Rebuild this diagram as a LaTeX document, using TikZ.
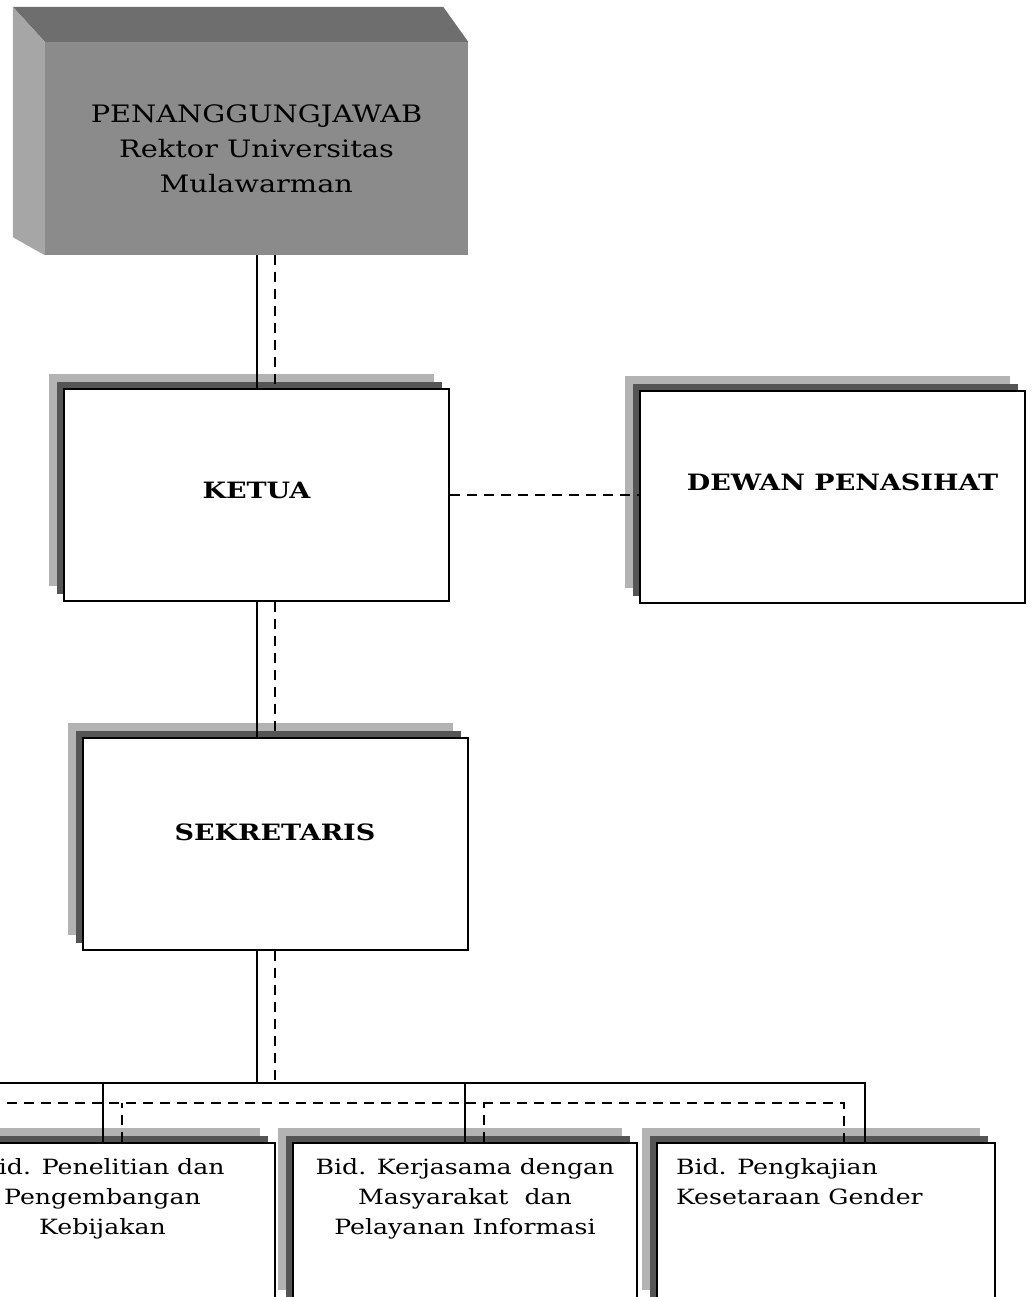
\documentclass[tikz,border=0pt]{standalone}
\usepackage{fontspec}
\setmainfont[FakeStretch=1.2]{DejaVu Serif}
\usetikzlibrary{shadows}
\definecolor{frontgrey}{HTML}{8B8B8B}
\definecolor{topgrey}{HTML}{6E6E6E}
\definecolor{sidegrey}{HTML}{A6A6A6}
\definecolor{paleshade}{HTML}{B3B3B3}
\definecolor{darkshade}{HTML}{555555}
\tikzset{unit/.style={draw, line width=2pt, fill=white,
        minimum width=385pt, minimum height=212pt,
        general shadow={draw=none, fill=paleshade, shadow xshift=-15pt, shadow yshift=15pt},
        general shadow={draw=none, fill=darkshade, shadow xshift=-7pt, shadow yshift=7pt},
        font=\fontsize{22.5}{28}\selectfont\bfseries},
    bidang/.style={unit, minimum width=345pt, minimum height=162pt,
        font=\fontsize{21}{30}\selectfont},
    link/.style={line width=2pt},
    dashlink/.style={line width=2pt, dash pattern=on 10pt off 7pt},
    }
\begin{document}
\begin{tikzpicture}[x=1pt,y=-1pt]
\useasboundingbox (0,0) rectangle (1032,1297);
\clip (0,0) rectangle (1032,1297);
% penanggungjawab block
\node[fill=frontgrey, minimum width=423pt, minimum height=213pt, align=center,
    font=\fontsize{24}{35}\selectfont] (pj) at (256.5,148.5)
    {PENANGGUNGJAWAB\\Rektor Universitas\\Mulawarman};
\fill[topgrey] (pj.north west) -- ++(-32,-35) -- ([shift={(-25,-35)}]pj.north east) -- (pj.north east) -- cycle;
\fill[sidegrey] (pj.north west) -- ++(-32,-35) -- ([shift={(-32,-18)}]pj.south west) -- (pj.south west) -- cycle;
% units
\node[unit, text depth=10pt] (ketua) at (256.5,495) {KETUA};
\node[unit, text depth=28pt] (dewan) at (832.5,496.5) {\hspace*{20pt}DEWAN PENASIHAT};
\node[unit, text depth=24pt] (sek) at (275,844) {SEKRETARIS};
\node[bidang] (bid1) at (102.5,1224)
    {\parbox[t][130pt][t]{330pt}{\centering Bid. Penelitian dan\\Pengembangan\\Kebijakan}};
\node[bidang, minimum width=344pt] (bid2) at (465,1224)
    {\parbox[t][130pt][t]{330pt}{\centering Bid. Kerjasama dengan\\Masyarakat~ dan\\Pelayanan Informasi}};
\node[bidang, minimum width=338pt] (bid3) at (826,1224)
    {\parbox[t][130pt][t]{300pt}{Bid. Pengkajian\\Kesetaraan Gender}};
% lines
\coordinate (fork) at (257,1083);
\coordinate (dfork) at (275,1103);
\coordinate (busend) at (-10,1083);
\coordinate (dbusend) at (-10,1103);
\draw[link] (pj.south) -- (ketua.north);
\draw[dashlink] ([xshift=18pt]pj.south) -- ([xshift=18pt]ketua.north);
\draw[link] (ketua.south) -- (ketua.south |- sek.north);
\draw[dashlink] ([xshift=18pt]ketua.south) -- ([xshift=18pt]ketua.south |- sek.north);
\draw[dashlink] (ketua.east) -- (ketua.east -| dewan.west);
\draw[link] (sek.south -| fork) -- (fork);
\draw[dashlink] (sek.south) -- (sek.south |- fork);
\draw[link] (busend) -- ([xshift=39pt]bid3.north |- fork) -- ([xshift=39pt]bid3.north);
\draw[dashlink] (dbusend) -- ([xshift=18pt]bid3.north |- dfork) -- ([xshift=18pt]bid3.north);
\foreach \b in {bid1,bid2}{
    \draw[link] (\b.north) -- (\b.north |- fork);
    \draw[dashlink] ([xshift=19pt]\b.north) -- ([xshift=19pt]\b.north |- dfork);
}
\end{tikzpicture}
\end{document}
